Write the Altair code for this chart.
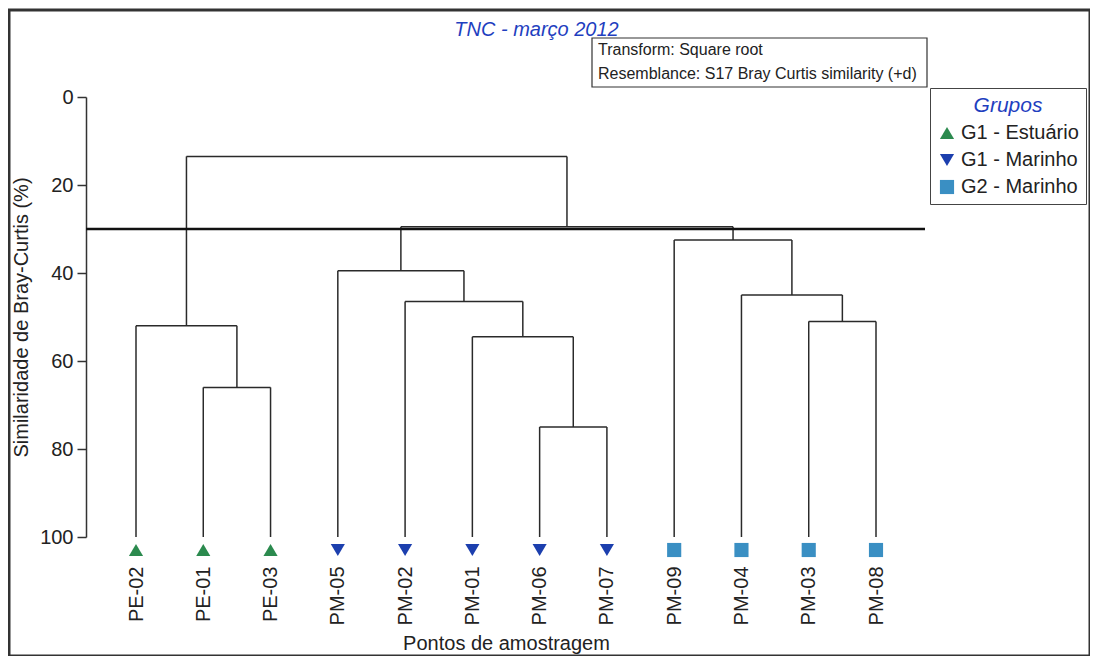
import json
import altair as alt
import pandas as pd

# ---------------- data ----------------
leaves = ["PE-02", "PE-01", "PE-03", "PM-05", "PM-02", "PM-01",
          "PM-06", "PM-07", "PM-09", "PM-04", "PM-03", "PM-08"]
leaf_groups = ["G1 - Estuário"] * 3 + ["G1 - Marinho"] * 5 + ["G2 - Marinho"] * 4
group_names = ["G1 - Estuário", "G1 - Marinho", "G2 - Marinho"]
group_colors = ["#2b8a4e", "#1c3fae", "#3a8fc3"]
group_shapes = ["triangle-up", "triangle-down", "square"]
group_sizes = [200, 200, 140]

# linkage (ids >= 12 refer to earlier merges, in order)
merge_a = [1, 0, 6, 5, 4, 3, 10, 9, 8, 17, 13]
merge_b = [2, 12, 7, 14, 15, 16, 11, 18, 19, 20, 21]
merge_h = [66.0, 52.0, 75.0, 54.5, 46.5, 39.5, 51.0, 45.0, 32.5, 29.5, 13.5]

y_ticks = [0, 20, 40, 60, 80, 100]
cutoff = [30]
leaf_level = 100
box_lines = ["Transform: Square root", "Resemblance: S17 Bray Curtis similarity (+d)"]

FONT = "Liberation Sans"
BLUE = "#1f3fbf"

# ---------------- dendrogram layout ----------------
node_x = list(range(len(leaves)))
node_h = [leaf_level] * len(leaves)
segs = []
for a, b, h in zip(merge_a, merge_b, merge_h):
    xa, xb = node_x[a], node_x[b]
    segs.append({"x": xa, "x2": xa, "y": node_h[a], "y2": h})
    segs.append({"x": xb, "x2": xb, "y": node_h[b], "y2": h})
    segs.append({"x": xa, "x2": xb, "y": h, "y2": h})
    node_x.append((xa + xb) / 2)
    node_h.append(h)
seg_df = pd.DataFrame(segs)

leaf_df = pd.DataFrame({"x": list(range(len(leaves))), "y": [leaf_level] * len(leaves),
                        "name": leaves, "group": leaf_groups})
cut_df = pd.DataFrame({"y": cutoff})

xscale = alt.Scale(domain=[0, len(leaves) - 1], range=[127, 867], nice=False, zero=False)
yscale = alt.Scale(domain=[0, 100], range=[87, 527], nice=False, zero=False)

xaxis = alt.Axis(values=list(range(len(leaves))),
                 labelExpr=json.dumps(leaves) + "[datum.value]",
                 labelAngle=270, offset=-92, domain=False, ticks=False, tickSize=0,
                 labelPadding=2, labelFontSize=20, labelFont=FONT, labelColor="#222",
                 labelFlush=False, labelOverlap=False, grid=False,
                 title="Pontos de amostragem", titleFont=FONT, titleFontSize=20,
                 titleFontWeight="normal", titleColor="#222", titlePadding=9)
yaxis = alt.Axis(values=y_ticks, offset=-77, domainColor="#333", domainWidth=1.5,
                 tickColor="#333", tickWidth=1.5, tickSize=9, labelPadding=4,
                 labelFontSize=20, labelFont=FONT, labelColor="#222",
                 labelFlush=False, labelOverlap=False, grid=False,
                 title="Similaridade de Bray-Curtis (%)", titleFont=FONT,
                 titleFontSize=20, titleFontWeight="normal", titleColor="#222",
                 titlePadding=8)

seg = alt.Chart(seg_df).mark_rule(color="#2a2a2a", strokeWidth=1.5).encode(
    x=alt.X("x:Q", scale=xscale, axis=xaxis),
    x2="x2:Q",
    y=alt.Y("y:Q", scale=yscale, axis=yaxis),
    y2="y2:Q",
)

cut = alt.Chart(cut_df).mark_rule(color="#111", strokeWidth=2.5).encode(
    y="y:Q", x=alt.value(77), x2=alt.value(916)
)

legend = alt.Legend(orient="none", legendX=921, legendY=78, title="Grupos",
                    titleFont=FONT, titleFontSize=21, titleFontStyle="italic",
                    titleFontWeight="normal", titleColor=BLUE, titleAnchor="middle",
                    titlePadding=7, labelFont=FONT, labelFontSize=20, labelColor="#222",
                    labelOffset=4, symbolSize=170, symbolStrokeWidth=0, rowPadding=7,
                    padding=7, strokeColor="#444", fillColor="white")

pts = alt.Chart(leaf_df).mark_point(filled=True, opacity=1, yOffset=13).encode(
    x="x:Q", y="y:Q",
    color=alt.Color("group:N", scale=alt.Scale(domain=group_names, range=group_colors),
                    legend=legend),
    shape=alt.Shape("group:N", scale=alt.Scale(domain=group_names, range=group_shapes),
                    legend=legend),
    size=alt.Size("group:N", scale=alt.Scale(domain=group_names, range=group_sizes),
                  legend=None),
)

box = alt.Chart(alt.Data(values=[{"k": 1}])).mark_rect(
    fill="white", stroke="#333", strokeWidth=1.2
).encode(x=alt.value(583), x2=alt.value(918), y=alt.value(28), y2=alt.value(77))

txt = alt.Chart(alt.Data(values=[{"k": 1}])).mark_text(
    align="left", baseline="top", font=FONT, fontSize=16, lineHeight=24, color="#222"
).encode(x=alt.value(589), y=alt.value(32), text=alt.value(box_lines))

chart = alt.layer(seg, cut, pts, box, txt).properties(
    width=1081, height=646,
    background="white",
    title=alt.TitleParams("TNC - março 2012", font=FONT, fontSize=20, fontStyle="italic",
                          fontWeight="normal", color=BLUE, anchor="middle", frame="group",
                          offset=-30, dx=-13, dy=20, baseline="bottom"),
    autosize=alt.AutoSizeParams(type="none"),
    padding={"left": 1, "top": 2, "right": 0, "bottom": 0},
).configure_view(stroke="#333", strokeWidth=3)

chart.save("out.html", embed_options={"renderer": "svg", "actions": False})
